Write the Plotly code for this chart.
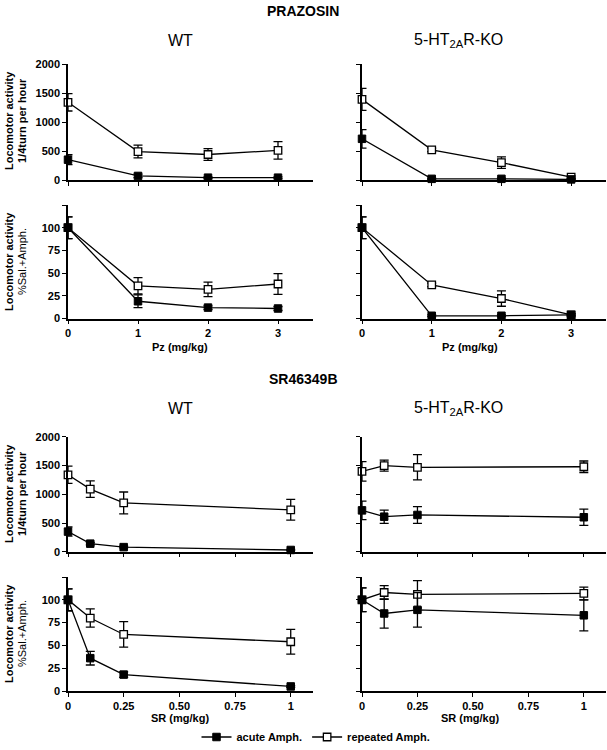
import plotly.graph_objects as go

# ---------------- data ----------------
pz_dose = [0, 1, 2, 3]
sr_dose = [0, 0.1, 0.25, 1]

# PRAZOSIN, WT, locomotor (1/4 turn per hour)
pz_wt_loco_acute = [350, 70, 40, 40]
pz_wt_loco_acute_err = [85, 30, 15, 15]
pz_wt_loco_rep = [1340, 490, 440, 510]
pz_wt_loco_rep_err = [150, 110, 100, 150]

# PRAZOSIN, KO, locomotor
pz_ko_loco_acute = [710, 20, 20, 10]
pz_ko_loco_acute_err = [160, 10, 10, 5]
pz_ko_loco_rep = [1390, 520, 300, 50]
pz_ko_loco_rep_err = [190, 30, 100, 20]

# PRAZOSIN, WT, % Sal.+Amph.
pz_wt_pct_acute = [100, 19, 12, 11]
pz_wt_pct_acute_err = [12, 7, 2, 2]
pz_wt_pct_rep = [100, 36, 32, 38]
pz_wt_pct_rep_err = [12, 9, 8, 11.5]

# PRAZOSIN, KO, % Sal.+Amph.
pz_ko_pct_acute = [100, 3, 3, 4]
pz_ko_pct_acute_err = [12, 1, 1, 1]
pz_ko_pct_rep = [100, 37, 22, 4]
pz_ko_pct_rep_err = [12, 2, 8.5, 1]

# SR46349B, WT, locomotor
sr_wt_loco_acute = [350, 140, 80, 30]
sr_wt_loco_acute_err = [80, 20, 15, 10]
sr_wt_loco_rep = [1340, 1090, 850, 730]
sr_wt_loco_rep_err = [150, 145, 190, 180]

# SR46349B, KO, locomotor
sr_ko_loco_acute = [720, 610, 640, 600]
sr_ko_loco_acute_err = [160, 115, 145, 143]
sr_ko_loco_rep = [1400, 1500, 1470, 1480]
sr_ko_loco_rep_err = [170, 95, 220, 100]

# SR46349B, WT, % Sal.+Amph.
sr_wt_pct_acute = [100, 36, 18, 5]
sr_wt_pct_acute_err = [12, 7.5, 3, 1]
sr_wt_pct_rep = [100, 80, 62, 54]
sr_wt_pct_rep_err = [12, 10, 14, 13.5]

# SR46349B, KO, % Sal.+Amph.
sr_ko_pct_acute = [100, 85, 89, 83]
sr_ko_pct_acute_err = [13, 16, 19, 17]
sr_ko_pct_rep = [100, 108, 106, 107]
sr_ko_pct_rep_err = [13, 7.5, 15, 7]

loco_ticks = [0, 500, 1000, 1500, 2000]
pct_ticks = [0, 25, 50, 75, 100, 125]
pct_ticktext = ["0", "25", "50", "75", "100", ""]
pz_ticks = [0, 1, 2, 3]
pz_ticktext = ["0", "1", "2", "3"]
sr_ticks = [0, 0.25, 0.5, 0.75, 1]
sr_ticktext = ["0", "0.25", "0.50", "0.75", "1"]

# ---------------- layout helpers ----------------
W, H = 607, 750
FONT = "Liberation Sans, Arial, sans-serif"

def px_x(p):
    return p / W

def px_y(p):
    return 1 - p / H

left_dom = [px_x(68), px_x(313)]
right_dom = [px_x(362), px_x(606)]
rows = {
    "pz_loco": [px_y(180), px_y(64)],
    "pz_pct": [px_y(318.5), px_y(205)],
    "sr_loco": [px_y(551.7), px_y(436.9)],
    "sr_pct": [px_y(691), px_y(577)],
}

fig = go.Figure()

panels = [
    ("pz_loco", True, pz_dose, pz_wt_loco_acute, pz_wt_loco_acute_err, pz_wt_loco_rep, pz_wt_loco_rep_err),
    ("pz_loco", False, pz_dose, pz_ko_loco_acute, pz_ko_loco_acute_err, pz_ko_loco_rep, pz_ko_loco_rep_err),
    ("pz_pct", True, pz_dose, pz_wt_pct_acute, pz_wt_pct_acute_err, pz_wt_pct_rep, pz_wt_pct_rep_err),
    ("pz_pct", False, pz_dose, pz_ko_pct_acute, pz_ko_pct_acute_err, pz_ko_pct_rep, pz_ko_pct_rep_err),
    ("sr_loco", True, sr_dose, sr_wt_loco_acute, sr_wt_loco_acute_err, sr_wt_loco_rep, sr_wt_loco_rep_err),
    ("sr_loco", False, sr_dose, sr_ko_loco_acute, sr_ko_loco_acute_err, sr_ko_loco_rep, sr_ko_loco_rep_err),
    ("sr_pct", True, sr_dose, sr_wt_pct_acute, sr_wt_pct_acute_err, sr_wt_pct_rep, sr_wt_pct_rep_err),
    ("sr_pct", False, sr_dose, sr_ko_pct_acute, sr_ko_pct_acute_err, sr_ko_pct_rep, sr_ko_pct_rep_err),
]

layout_axes = {}
for i, (row, is_left, xs, ac, ace, rp, rpe) in enumerate(panels, start=1):
    xa = "x" if i == 1 else f"x{i}"
    ya = "y" if i == 1 else f"y{i}"
    first = (i == 1)
    fig.add_trace(go.Scatter(
        x=xs, y=rp, xaxis=xa, yaxis=ya, mode="lines+markers",
        name="repeated Amph.", legendrank=2, showlegend=first,
        line=dict(color="black", width=1.3),
        marker=dict(symbol="square", size=7.5, color="white",
                    line=dict(color="black", width=1.3)),
        error_y=dict(type="data", array=rpe, visible=True, color="black",
                     thickness=1.3, width=4.5),
        cliponaxis=False,
    ))
    fig.add_trace(go.Scatter(
        x=xs, y=ac, xaxis=xa, yaxis=ya, mode="lines+markers",
        name="acute Amph.", legendrank=1, showlegend=first,
        line=dict(color="black", width=1.3),
        marker=dict(symbol="square", size=7.5, color="black",
                    line=dict(color="black", width=1)),
        error_y=dict(type="data", array=ace, visible=True, color="black",
                     thickness=1.3, width=4.5),
        cliponaxis=False,
    ))

    is_pz = row.startswith("pz")
    is_loco = row.endswith("loco")
    xkey = "xaxis" if i == 1 else f"xaxis{i}"
    ykey = "yaxis" if i == 1 else f"yaxis{i}"
    layout_axes[xkey] = dict(
        domain=left_dom if is_left else right_dom,
        anchor=ya,
        range=[0, 3.5] if is_pz else [0, 1.1],
        tickvals=pz_ticks if is_pz else sr_ticks,
        ticktext=pz_ticktext if is_pz else sr_ticktext,
        showticklabels=not is_loco,
        ticks="outside", ticklen=4, tickwidth=1.3, tickcolor="black",
        showline=True, linecolor="black", linewidth=1.5,
        showgrid=False, zeroline=False, fixedrange=True, automargin=False,
        tickfont=dict(family=FONT, size=11, color="black", weight="bold"),
    )
    layout_axes[ykey] = dict(
        domain=rows[row],
        anchor=xa,
        range=[0, 2000] if is_loco else [0, 125],
        tickvals=loco_ticks if is_loco else pct_ticks,
        ticktext=[str(v) for v in loco_ticks] if is_loco else pct_ticktext,
        showticklabels=is_left,
        ticks="outside", ticklen=4, tickwidth=1.3, tickcolor="black",
        showline=True, linecolor="black", linewidth=1.5,
        showgrid=False, zeroline=False, fixedrange=True, automargin=False,
        tickfont=dict(family=FONT, size=11, color="black", weight="bold"),
    )

annotations = []

def ann(text, x, y, size, bold=False, angle=0):
    annotations.append(dict(
        text=text, x=px_x(x), y=px_y(y), xref="paper", yref="paper",
        showarrow=False, textangle=angle, xanchor="center", yanchor="middle",
        font=dict(family=FONT, size=size, color="black",
                  weight="bold" if bold else "normal"),
    ))

ann("PRAZOSIN", 303, 11, 14, bold=True)
ann("SR46349B", 303, 379, 14, bold=True)
ann("WT", 180, 40, 16)
ann("5-HT<sub>2A</sub>R-KO", 458, 40, 16)
ann("WT", 180, 408, 16)
ann("5-HT<sub>2A</sub>R-KO", 458, 408, 16)
ann("Pz (mg/kg)", 180, 347, 11, bold=True)
ann("Pz (mg/kg)", 470, 347, 11, bold=True)
ann("SR (mg/kg)", 180, 718, 11, bold=True)
ann("SR (mg/kg)", 470, 718, 11, bold=True)

for cy in (121, 262, 494, 634):
    ann("Locomotor activity", 9, cy, 11, bold=True, angle=-90)
for cy in (121, 494):
    ann("1/4turn per hour", 22, cy, 11, bold=True, angle=-90)
for cy in (262, 634):
    ann("%Sal.+Amph.", 22, cy, 11, bold=False, angle=-90)

fig.update_layout(
    width=W, height=H,
    margin=dict(l=0, r=0, t=0, b=0, autoexpand=False),
    paper_bgcolor="white", plot_bgcolor="white",
    font=dict(family=FONT, color="black"),
    showlegend=True,
    legend=dict(
        orientation="h", x=px_x(316), y=px_y(737), xanchor="center",
        yanchor="middle", font=dict(family=FONT, size=11, color="black", weight="bold"),
        bgcolor="rgba(0,0,0,0)", itemwidth=30, tracegroupgap=0,
    ),
    annotations=annotations,
    **layout_axes,
)

# remove the browser's default page margin so the figure fills the window exactly
fig.write_html(
    "out.html",
    config={"displayModeBar": False},
    post_script="document.body.style.margin='0px';",
)
